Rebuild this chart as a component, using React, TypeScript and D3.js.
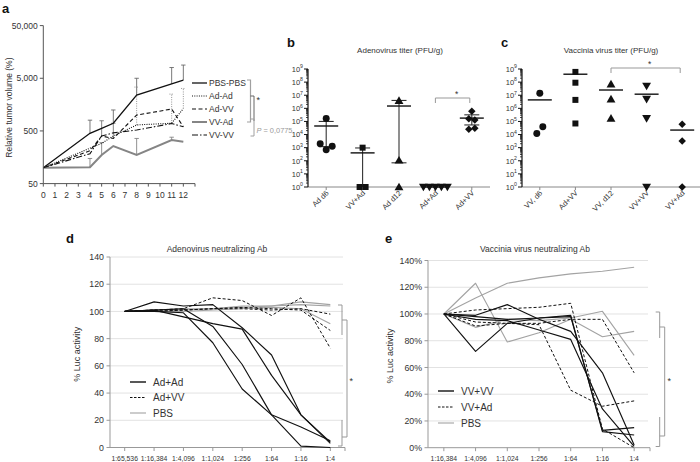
import React from "react";
import * as d3 from "d3";

const FONT = "'Liberation Sans', Arial, Helvetica, sans-serif";

// ---------- Panel a: relative tumor volume ----------
const daysA = [0, 4, 5, 6, 8, 11, 12];
const xTicksA = [0, 1, 2, 3, 4, 5, 6, 7, 8, 9, 10, 11, 12];
const yTicksA = [50, 500, 5000, 50000];
const yTickLabelsA = ["50", "500", "5,000", "50,000"];
const groupsA = ["PBS-PBS", "Ad-Ad", "Ad-VV", "VV-Ad", "VV-VV"];
const pbsPbsA = [100, 450, 560, 700, 2400, 3900, 4600];
const adAdA = [100, 235, 290, 400, 650, 700, 1330];
const adVvA = [100, 210, 400, 360, 1000, 1300, 600];
const vvAdA = [100, 102, 175, 258, 175, 336, 312];
const vvVvA = [100, 185, 400, 460, 520, 690, 600];
const pbsPbsErrA = [null, 800, null, 1250, 5000, 8000, 8900];
const adAdErrA = [null, null, null, null, 3400, 2500, 3200];
const adVvErrA = [null, null, 780, 700, null, null, null];
const vvAdErrA = [null, 150, 300, null, 360, 380, null];
const vvVvErrA = [null, null, null, null, null, null, null];

// ---------- Panel b: adenovirus titer ----------
const catsB = ["Ad d6", "VV+Ad", "Ad d12", "Ad+Ad", "Ad+VV"];
const adD6B = [170000, 2000, 700, 1300];
const vvAdB = [1000, 1, 1];
const adD12B = [3900000, 110, 1];
const adAdB = [1, 1, 1, 1, 1];
const adVvB = [600000, 160000, 130000, 25000, 30000];
const meanB = [45000, 400, 1500000, 1, 180000];
const errHiB = [100000, 950, 4000000, null, 320000];
const errLoB = [1200, 1, 70, null, 54000];

// ---------- Panel c: vaccinia virus titer ----------
const catsC = ["VV, d6", "Ad+VV", "VV, d12", "VV+VV", "VV+Ad"];
const vvD6C = [14000000, 12000, 40000];
const adVvC = [600000000, 90000000, 4400000, 70000];
const vvD12C = [70000000, 5000000, 170000];
const vvVvC = [50000000, 5000000, 170000, 1];
const vvAdC = [60000, 3200, 1];
const meanC = [4400000, 400000000, 25000000, 12000000, 22000];

const yExpTicks = [0, 1, 2, 3, 4, 5, 6, 7, 8, 9];

// ---------- Panel d: adenovirus neutralizing Ab ----------
const dilD = ["1:65,536", "1:16,384", "1:4,096", "1:1,024", "1:256", "1:64", "1:16", "1:4"];
const yTicksD = [0, 20, 40, 60, 80, 100, 120, 140];
const adAdD1 = [100, 107, 104, 105, 88, 68, 24, 3];
const adAdD2 = [100, 101, 96, 91, 87, 53, 24, 4];
const adAdD3 = [100, 100, 99, 77, 43, 24, 15, 5];
const adAdD4 = [100, 101, 102, 89, 61, 24, 1, 0];
const adVvD1 = [100, 101, 102, 110, 108, 97, 110, 73];
const adVvD2 = [100, 100, 101, 102, 103, 102, 101, 86];
const adVvD3 = [100, 101, 101, 102, 102, 101, 102, 98];
const pbsD1 = [100, 101, 102, 102, 104, 104, 107, 105];
const pbsD2 = [100, 100, 101, 102, 103, 104, 105, 104];
const pbsD3 = [100, 100, 100, 101, 102, 103, 102, 91];
const legendD = ["Ad+Ad", "Ad+VV", "PBS"];

// ---------- Panel e: vaccinia virus neutralizing Ab ----------
const dilE = ["1:16,384", "1:4,096", "1:1,024", "1:256", "1:64", "1:16", "1:4"];
const yTicksE = [0, 0.2, 0.4, 0.6, 0.8, 1.0, 1.2, 1.4];
const vvVvE1 = [1.0, 0.72, 0.93, 0.97, 0.98, 0.13, 0.15];
const vvVvE2 = [1.0, 0.99, 1.07, 0.96, 0.87, 0.56, 0.02];
const vvVvE3 = [1.0, 0.98, 0.96, 0.97, 0.99, 0.12, 0.095];
const vvVvE4 = [1.0, 0.96, 0.95, 0.88, 0.81, 0.29, 0.01];
const vvAdE1 = [1.0, 1.03, 1.04, 1.05, 1.08, 0.14, 0.0];
const vvAdE2 = [1.0, 0.94, 0.93, 0.93, 0.96, 0.96, 0.56];
const vvAdE3 = [1.0, 0.91, 0.93, 0.92, 0.43, 0.31, 0.35];
const pbsE1 = [1.0, 1.23, 0.79, 0.86, 0.96, 0.83, 0.87];
const pbsE2 = [1.0, 1.12, 1.23, 1.27, 1.3, 1.32, 1.35];
const pbsE3 = [1.0, 0.9, 0.96, 0.95, 0.97, 1.02, 0.69];
const legendE = ["VV+VV", "VV+Ad", "PBS"];

const TXT = "#333";

function PanelA() {
  const x = d3.scaleLinear().domain([0, 13]).range([43.3, 195]);
  const y = d3.scaleLog().domain([50, 50000]).range([183.6, 25.6]);
  const styles = [
    { stroke: "#111", w: 1.3, dash: undefined as string | undefined, eStroke: "#6a6a6a", eDash: undefined as string | undefined },
    { stroke: "#111", w: 1.1, dash: "1,1.3", eStroke: "#888", eDash: "1,1.3" },
    { stroke: "#111", w: 1.1, dash: "4,2.5", eStroke: "#777", eDash: undefined },
    { stroke: "#858585", w: 2, dash: undefined, eStroke: "#858585", eDash: undefined },
    { stroke: "#111", w: 1.1, dash: "6,2,1.5,2", eStroke: "#777", eDash: undefined },
  ];
  const vals = [pbsPbsA, adAdA, adVvA, vvAdA, vvVvA];
  const errs = [pbsPbsErrA, adAdErrA, adVvErrA, vvAdErrA, vvVvErrA];
  const line = d3.line<number>().x((_, i) => x(daysA[i])).y((d) => y(d));
  const y0 = y(50);
  return (
    <g>
      <text x={2} y={12.5} fontSize={13} fontWeight="bold" fill="#111">a</text>
      {errs.map((e, s) =>
        e.map((v, i) =>
          v == null ? null : (
            <g key={`e${s}-${i}`} stroke={styles[s].eStroke} strokeWidth={0.9} strokeDasharray={styles[s].eDash}>
              <line x1={x(daysA[i])} x2={x(daysA[i])} y1={y(vals[s][i])} y2={y(v)} />
              <line x1={x(daysA[i]) - 2.2} x2={x(daysA[i]) + 2.2} y1={y(v)} y2={y(v)} strokeDasharray={undefined} />
            </g>
          )
        )
      )}
      {vals.map((v, s) => (
        <path key={`l${s}`} d={line(v) || ""} fill="none" stroke={styles[s].stroke} strokeWidth={styles[s].w} strokeDasharray={styles[s].dash} />
      ))}
      <line x1={x(0)} x2={x(0)} y1={y(50000)} y2={y0} stroke="#555" strokeWidth={1} />
      <line x1={x(0)} x2={x(13)} y1={y0} y2={y0} stroke="#555" strokeWidth={1} />
      {yTicksA.map((t, i) => (
        <g key={`yt${t}`}>
          <line x1={x(0) - 3.5} x2={x(0)} y1={y(t)} y2={y(t)} stroke="#555" />
          <text x={x(0) - 5.5} y={y(t)} dy="0.35em" textAnchor="end" fontSize={8.5} fill={TXT}>{yTickLabelsA[i]}</text>
        </g>
      ))}
      {[...xTicksA, 13].map((t) => (
        <line key={`xt${t}`} x1={x(t)} x2={x(t)} y1={y0} y2={y0 + 3} stroke="#555" />
      ))}
      {xTicksA.map((t) => (
        <text key={`xl${t}`} x={x(t)} y={y0 + 14} textAnchor="middle" fontSize={8.5} fill={TXT}>{t}</text>
      ))}
      <text transform={`translate(12,${(y(50000) + y0) / 2 + 3}) rotate(-90)`} textAnchor="middle" fontSize={8.5} fill={TXT}>
        Relative tumor volume (%)
      </text>
      {groupsA.map((g, i) => (
        <g key={`lg${g}`}>
          <line x1={192} x2={207} y1={83 + i * 13} y2={83 + i * 13} stroke={styles[i].stroke} strokeWidth={styles[i].w} strokeDasharray={styles[i].dash} />
          <text x={209} y={83 + i * 13} dy="0.35em" fontSize={8.5} fill={TXT}>{g}</text>
        </g>
      ))}
      <path d="M247,80 H250.5 V122 H247" fill="none" stroke="#a0a0a0" strokeWidth={1.2} />
      <path d="M250.5,96 H254 V121" fill="none" stroke="#555" strokeWidth={0.9} />
      <text x={256.5} y={103} fontSize={9} fill="#333">*</text>
      <path d="M250.5,119 H254 V136 H250.5" fill="none" stroke="#a0a0a0" strokeWidth={1} />
      <text x={256.5} y={132.5} fontSize={7.4} fill="#999">
        <tspan fontStyle="italic">P</tspan> = 0,0775
      </text>
    </g>
  );
}

function jitter(vals: number[], thr = 0.55, step = 6): number[] {
  const logs = vals.map((v) => Math.log10(v));
  const order = logs.map((_, i) => i).sort((a, b) => logs[a] - logs[b]);
  const groups: number[][] = [];
  order.forEach((i) => {
    const g = groups[groups.length - 1];
    if (g && logs[i] - logs[g[g.length - 1]] < thr) g.push(i);
    else groups.push([i]);
  });
  const off = new Array(vals.length).fill(0);
  groups.forEach((g) => {
    const gs = [...g].sort((a, b) => a - b);
    gs.forEach((i, k) => (off[i] = (k - (gs.length - 1) / 2) * step));
  });
  return off;
}

const symPaths = {
  circle: d3.symbol().type(d3.symbolCircle).size(38)() || "",
  square: d3.symbol().type(d3.symbolSquare).size(36)() || "",
  tri: d3.symbol().type(d3.symbolTriangle).size(34)() || "",
  diamond: d3.symbol().type(d3.symbolSquare).size(28)() || "",
};

function Marker({ kind, x, y }: { kind: number; x: number; y: number }) {
  if (kind === 0) return <path d={symPaths.circle} transform={`translate(${x},${y})`} fill="#111" />;
  if (kind === 1) return <path d={symPaths.square} transform={`translate(${x},${y})`} fill="#111" />;
  if (kind === 2) return <path d={symPaths.tri} transform={`translate(${x},${y + 0.8})`} fill="#111" />;
  if (kind === 3) return <path d={symPaths.tri} transform={`translate(${x},${y - 0.8}) rotate(180)`} fill="#111" />;
  return <path d={symPaths.diamond} transform={`translate(${x},${y}) rotate(45)`} fill="#111" />;
}

type TiterProps = {
  cats: string[];
  pts: number[][];
  kinds: number[];
  means: number[];
  errHi?: (number | null)[];
  errLo?: (number | null)[];
  x0: number;
  x1: number;
  title: string;
  titleX: number;
  letter: string;
  letterX: number;
  bracket: [number, number];
};

function TiterPanel(p: TiterProps) {
  const x = d3.scaleBand<string>().domain(p.cats).range([p.x0, p.x1]);
  const y = d3.scaleLog().domain([1, 1e9]).range([187, 69]);
  const cx = (c: string) => (x(c) as number) + x.bandwidth() / 2;
  const minor: number[] = [];
  for (let e = 0; e < 9; e++) for (let k = 2; k <= 9; k++) minor.push(k * Math.pow(10, e));
  const [b0, b1] = p.bracket;
  const bTop = p.letter === "b" ? 98 : 68;
  return (
    <g>
      <text x={p.letterX} y={47} fontSize={13} fontWeight="bold" fill="#111">{p.letter}</text>
      <text x={p.titleX} y={52.5} textAnchor="middle" fontSize={8} fill={TXT}>{p.title}</text>
      <line x1={p.x0} x2={p.x1} y1={y(1)} y2={y(1)} stroke="#888" strokeWidth={1} />
      {p.cats.map((c) => (
        <line key={`xt${c}`} x1={cx(c)} x2={cx(c)} y1={y(1)} y2={y(1) + 3} stroke="#888" />
      ))}
      <line x1={p.x0} x2={p.x0} y1={y(1e9)} y2={y(1)} stroke="#111" strokeWidth={1.2} />
      {minor.map((m) => (
        <line key={`mn${m}`} x1={p.x0 - 2} x2={p.x0} y1={y(m)} y2={y(m)} stroke="#111" strokeWidth={0.8} />
      ))}
      {yExpTicks.map((e) => (
        <g key={`yt${e}`}>
          <line x1={p.x0 - 4} x2={p.x0} y1={y(Math.pow(10, e))} y2={y(Math.pow(10, e))} stroke="#111" strokeWidth={1} />
          <text x={p.x0 - 5} y={y(Math.pow(10, e)) + 2.8} textAnchor="end" fontSize={7.5} fill={TXT}>
            10
            <tspan dy={-3.5} fontSize={5.2}>{e}</tspan>
          </text>
        </g>
      ))}
      {p.cats.map((c) => (
        <text key={`xl${c}`} transform={`translate(${cx(c) + 3},${y(1) + 6.5}) rotate(-45)`} textAnchor="end" fontSize={7.5} fill={TXT}>
          {c}
        </text>
      ))}
      {p.cats.map((c, i) => {
        const hi = p.errHi ? p.errHi[i] : null;
        const lo = p.errLo ? p.errLo[i] : null;
        if (hi == null || lo == null) return null;
        return (
          <g key={`eb${c}`} stroke="#333" strokeWidth={1.1}>
            <line x1={cx(c)} x2={cx(c)} y1={y(hi)} y2={y(lo)} />
            <line x1={cx(c) - 7.5} x2={cx(c) + 7.5} y1={y(hi)} y2={y(hi)} />
            {lo > 1 ? <line x1={cx(c) - 7.5} x2={cx(c) + 7.5} y1={y(lo)} y2={y(lo)} /> : null}
          </g>
        );
      })}
      {p.cats.map((c, i) => {
        const off = jitter(p.pts[i]);
        return p.pts[i].map((v, j) => <Marker key={`pt${c}${j}`} kind={p.kinds[i]} x={cx(c) + off[j]} y={y(v)} />);
      })}
      {p.cats.map((c, i) => (
        <line key={`mean${c}`} x1={cx(c) - 12} x2={cx(c) + 12} y1={y(p.means[i])} y2={y(p.means[i])} stroke="#111" strokeWidth={1.4} />
      ))}
      <path d={`M${cx(p.cats[b0])},${bTop + 5} V${bTop} H${cx(p.cats[b1]) - 2} V${bTop + 5}`} fill="none" stroke="#999" strokeWidth={1} />
      <text x={(cx(p.cats[b0]) + cx(p.cats[b1])) / 2 + 3} y={bTop - 1} textAnchor="middle" fontSize={8.5} fill="#333">*</text>
    </g>
  );
}

type LineSeries = { vals: number[]; kind: number };

function NeutPanel(props: {
  cats: string[];
  series: LineSeries[];
  yTicks: number[];
  yMax: number;
  x0: number;
  x1: number;
  yBottom: number;
  yTop: number;
  pct: boolean;
  title: string;
  titleX: number;
  letter: string;
  letterX: number;
  ylabelX: number;
  legend: string[];
  legendX: number;
  legendY: number;
  legendStep: number;
  brackets: { upper: string; lower: string; conn: string; star: [number, number] };
}) {
  const p = props;
  const x = d3.scaleBand<string>().domain(p.cats).range([p.x0, p.x1]);
  const y = d3.scaleLinear().domain([0, p.yMax]).range([p.yBottom, p.yTop]);
  const cx = (c: string) => (x(c) as number) + x.bandwidth() / 2;
  const line = d3.line<number>().x((_, i) => cx(p.cats[i])).y((d) => y(d));
  const sty = [
    { stroke: "#111", w: 1.15, dash: undefined as string | undefined },
    { stroke: "#111", w: 1.0, dash: "3,2" },
    { stroke: "#a3a3a3", w: 1.1, dash: undefined },
  ];
  const fmt = p.pct ? d3.format(".0%") : d3.format("d");
  const order = [2, 1, 0];
  return (
    <g>
      <text x={p.letterX} y={242.5} fontSize={13} fontWeight="bold" fill="#111">{p.letter}</text>
      <text x={p.titleX} y={252} textAnchor="middle" fontSize={8.5} fill={TXT}>{p.title}</text>
      {p.yTicks.slice(1).map((t) => (
        <line key={`g${t}`} x1={p.x0} x2={p.x1 - 2} y1={y(t)} y2={y(t)} stroke="#e2e2e2" strokeWidth={1} />
      ))}
      <line x1={p.x0} x2={p.x0} y1={y(p.yMax)} y2={y(0)} stroke="#999" />
      <line x1={p.x0} x2={p.x1} y1={y(0)} y2={y(0)} stroke="#999" />
      {p.yTicks.map((t) => (
        <g key={`yt${t}`}>
          <line x1={p.x0 - 3.5} x2={p.x0} y1={y(t)} y2={y(t)} stroke="#999" />
          <text x={p.x0 - 6} y={y(t)} dy="0.35em" textAnchor="end" fontSize={8.8} fill={TXT}>{fmt(t)}</text>
        </g>
      ))}
      {p.cats.map((c) => (
        <g key={`xt${c}`}>
          <line x1={cx(c)} x2={cx(c)} y1={y(0)} y2={y(0) + 3.5} stroke="#999" />
          <text x={cx(c)} y={y(0) + 13} textAnchor="middle" fontSize={6.8} fill={TXT}>{c}</text>
        </g>
      ))}
      <line x1={p.x1} x2={p.x1} y1={y(0)} y2={y(0) + 3.5} stroke="#999" />
      <text transform={`translate(${p.ylabelX},${(y(0) + y(p.yMax)) / 2 + 2}) rotate(-90)`} textAnchor="middle" fontSize={9} fill={TXT}>
        % Luc activity
      </text>
      {order.map((k) =>
        p.series
          .filter((s) => s.kind === k)
          .map((s, i) => (
            <path key={`s${k}-${i}`} d={line(s.vals) || ""} fill="none" stroke={sty[k].stroke} strokeWidth={sty[k].w} strokeDasharray={sty[k].dash} strokeLinejoin="round" />
          ))
      )}
      {p.legend.map((l, i) => (
        <g key={`lg${l}`}>
          <line x1={p.legendX} x2={p.legendX + 16} y1={p.legendY + i * p.legendStep} y2={p.legendY + i * p.legendStep} stroke={sty[i].stroke} strokeWidth={i === 0 ? 1.4 : sty[i].w} strokeDasharray={i === 1 ? "2.5,1.5" : undefined} />
          <text x={p.legendX + 23} y={p.legendY + i * p.legendStep} dy="0.35em" fontSize={10} fill={TXT}>{l}</text>
        </g>
      ))}
      <path d={p.brackets.upper} fill="none" stroke="#999" strokeWidth={1} />
      <path d={p.brackets.lower} fill="none" stroke="#999" strokeWidth={1} />
      <path d={p.brackets.conn} fill="none" stroke="#999" strokeWidth={1} />
      <text x={p.brackets.star[0]} y={p.brackets.star[1]} fontSize={9} fill="#333">*</text>
    </g>
  );
}

export default function App() {
  const seriesD: LineSeries[] = [
    { vals: adAdD1, kind: 0 }, { vals: adAdD2, kind: 0 }, { vals: adAdD3, kind: 0 }, { vals: adAdD4, kind: 0 },
    { vals: adVvD1, kind: 1 }, { vals: adVvD2, kind: 1 }, { vals: adVvD3, kind: 1 },
    { vals: pbsD1, kind: 2 }, { vals: pbsD2, kind: 2 }, { vals: pbsD3, kind: 2 },
  ];
  const seriesE: LineSeries[] = [
    { vals: vvVvE1, kind: 0 }, { vals: vvVvE2, kind: 0 }, { vals: vvVvE3, kind: 0 }, { vals: vvVvE4, kind: 0 },
    { vals: vvAdE1, kind: 1 }, { vals: vvAdE2, kind: 1 }, { vals: vvAdE3, kind: 1 },
    { vals: pbsE1, kind: 2 }, { vals: pbsE2, kind: 2 }, { vals: pbsE3, kind: 2 },
  ];
  return (
    <svg width={700} height={462} style={{ position: "absolute", left: 0, top: 0, fontFamily: FONT }}>
      <rect width={700} height={462} fill="#fff" />
      <PanelA />
      <TiterPanel
        cats={catsB}
        pts={[adD6B, vvAdB, adD12B, adAdB, adVvB]}
        kinds={[0, 1, 2, 3, 4]}
        means={meanB}
        errHi={errHiB}
        errLo={errLoB}
        x0={308}
        x1={490}
        title="Adenovirus titer (PFU/g)"
        titleX={400}
        letter="b"
        letterX={287}
        bracket={[3, 4]}
      />
      <TiterPanel
        cats={catsC}
        pts={[vvD6C, adVvC, vvD12C, vvVvC, vvAdC]}
        kinds={[0, 1, 2, 3, 4]}
        means={meanC}
        x0={522}
        x1={700}
        title="Vaccinia virus titer (PFU/g)"
        titleX={611}
        letter="c"
        letterX={501}
        bracket={[2, 4]}
      />
      <NeutPanel
        cats={dilD}
        series={seriesD}
        yTicks={yTicksD}
        yMax={140}
        x0={110}
        x1={345}
        yBottom={447.5}
        yTop={257}
        pct={false}
        title="Adenovirus neutralizing Ab"
        titleX={217}
        letter="d"
        letterX={66}
        ylabelX={80}
        legend={legendD}
        legendX={130}
        legendY={382}
        legendStep={15.5}
        brackets={{ upper: "M338,305 H342 V335", lower: "M342,420 V446 H338", conn: "M342,320 H347 V437 H342", star: [349.5, 384] }}
      />
      <NeutPanel
        cats={dilE}
        series={seriesE}
        yTicks={yTicksE}
        yMax={1.4}
        x0={428}
        x1={650}
        yBottom={447.7}
        yTop={260.5}
        pct={true}
        title="Vaccinia virus neutralizing Ab"
        titleX={535}
        letter="e"
        letterX={385}
        ylabelX={393}
        legend={legendE}
        legendX={438}
        legendY={391}
        legendStep={16}
        brackets={{ upper: "M655.7,312 H659.7 V338", lower: "M659.7,417 V446.5 H655.7", conn: "M659.7,327 H664.7 V436 H659.7", star: [667.5, 384] }}
      />
    </svg>
  );
}
